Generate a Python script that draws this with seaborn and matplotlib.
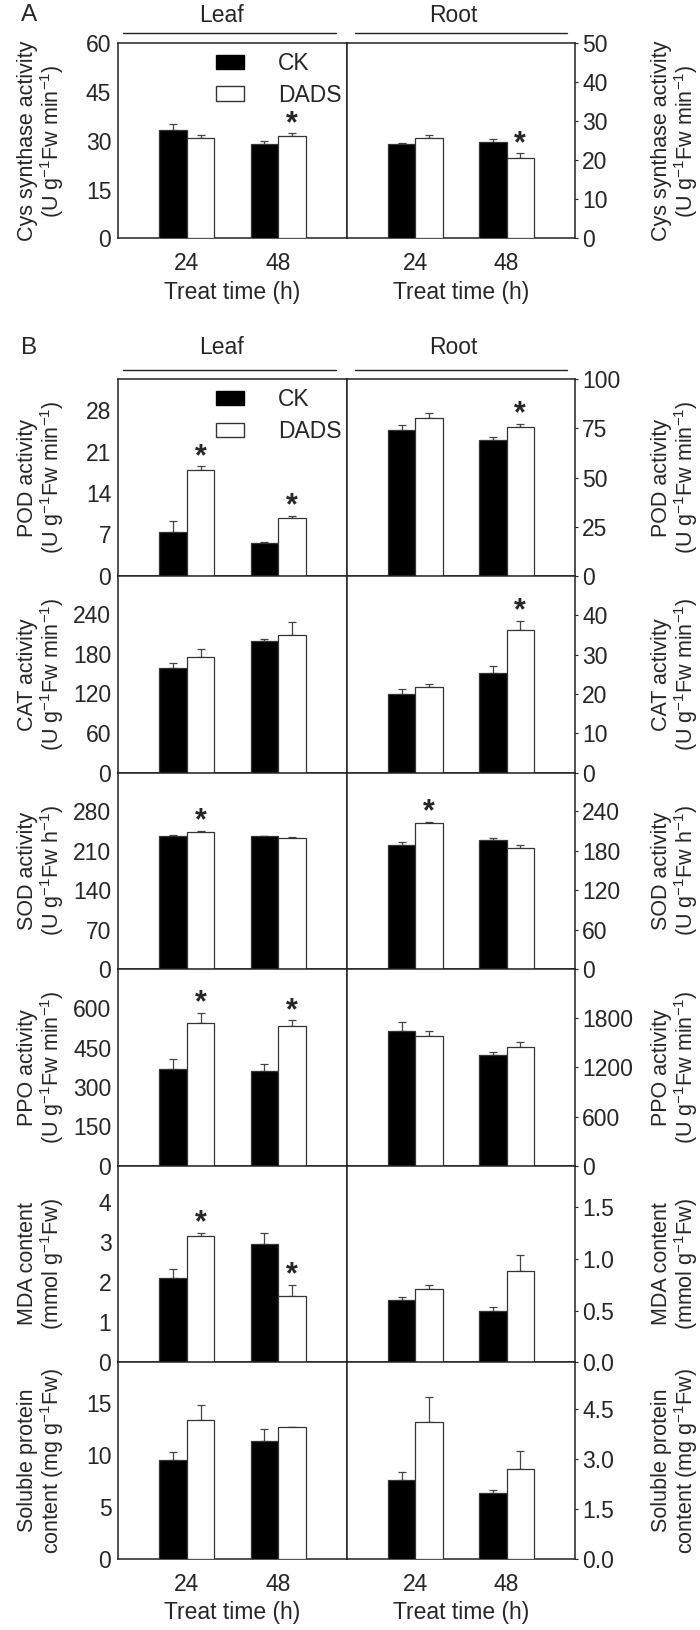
import numpy as np
import matplotlib
matplotlib.use("Agg")
import matplotlib.pyplot as plt
import pandas as pd
import seaborn as sns
from matplotlib.lines import Line2D
from matplotlib.patches import Patch

# ---- data (rows: CK, DADS ; cols: 24 h, 48 h) ----
times = ["24", "48"]
groups = ["CK", "DADS"]

cys_leaf = [[33.3, 29.0], [30.8, 31.6]]
cys_leaf_err = [[1.9, 0.8], [1.0, 0.7]]
cys_leaf_star = [False, True]
cys_root = [[24.2, 24.8], [25.6, 20.5]]
cys_root_err = [[0.35, 0.7], [0.9, 1.3]]
cys_root_star = [False, True]

pod_leaf = [[7.45, 5.5], [17.8, 9.7]]
pod_leaf_err = [[1.8, 0.17], [0.7, 0.45]]
pod_leaf_star = [True, True]
pod_root = [[74.1, 69.0], [80.4, 75.9]]
pod_root_err = [[2.6, 1.4], [2.6, 1.5]]
pod_root_star = [False, True]

cat_leaf = [[158.2, 198.6], [174.8, 208.2]]
cat_leaf_err = [[7.5, 4.5], [12.7, 19.7]]
cat_leaf_star = [False, False]
cat_root = [[20.0, 25.3], [21.7, 36.3]]
cat_root_err = [[1.3, 1.7], [0.9, 2.3]]
cat_root_star = [False, True]

sod_leaf = [[235.5, 235.5], [243.2, 231.9]]
sod_leaf_err = [[3.0, 1.5], [1.8, 2.4]]
sod_leaf_star = [True, False]
sod_root = [[188.1, 195.7], [221.7, 184.0]]
sod_root_err = [[4.6, 3.1], [2.0, 4.6]]
sod_root_star = [True, False]

ppo_leaf = [[368.6, 362.3], [545.3, 532.6]]
ppo_leaf_err = [[37, 24], [37, 21.6]]
ppo_leaf_star = [True, True]
ppo_root = [[1641, 1356], [1588, 1445]]
ppo_root_err = [[114, 32], [61, 66]]
ppo_root_star = [False, False]

mda_leaf = [[2.1, 2.94], [3.16, 1.64]]
mda_leaf_err = [[0.22, 0.28], [0.07, 0.29]]
mda_leaf_star = [True, True]
mda_root = [[0.6, 0.5], [0.706, 0.88]]
mda_root_err = [[0.03, 0.03], [0.042, 0.16]]
mda_root_star = [False, False]

prot_leaf = [[9.51, 11.34], [13.36, 12.72]]
prot_leaf_err = [[0.77, 1.19], [1.41, 0.0]]
prot_leaf_star = [False, False]
prot_root = [[2.37, 1.97], [4.12, 2.69]]
prot_root_err = [[0.25, 0.11], [0.73, 0.56]]
prot_root_star = [False, False]

# ---- style ----
sns.set_style("white")
plt.rcParams["font.family"] = ["Liberation Sans", "DejaVu Sans"]
plt.rcParams["mathtext.fontset"] = "custom"
plt.rcParams["mathtext.rm"] = "Liberation Sans"
plt.rcParams["mathtext.it"] = "Liberation Sans:italic"
plt.rcParams["mathtext.default"] = "regular"

FS = 16.5      # tick labels and horizontal text
FS_Y = 15.5    # rotated axis titles
LC = "#222222"
W, H = 700, 1630

fig = plt.figure(figsize=(7, 16.3), dpi=100)

x_left, x_mid, x_right = 118.3, 346.7, 575.0
pw = x_mid - x_left


def make_axes(top, height):
    b = 1 - (top + height) / H
    ax_l = fig.add_axes([x_left / W, b, pw / W, height / H])
    ax_r = fig.add_axes([x_mid / W, b, pw / W, height / H])
    return ax_l, ax_r


def draw(ax, mean, err, star):
    df = pd.DataFrame({
        "time": times * 2,
        "group": [groups[0]] * 2 + [groups[1]] * 2,
        "value": mean[0] + mean[1],
    })
    sns.barplot(data=df, x="time", y="value", hue="group",
                palette={"CK": "black", "DADS": "white"}, width=0.6,
                edgecolor="#333333", linewidth=0.9, errorbar=None,
                legend=False, ax=ax, zorder=3)
    for cont, e in zip(ax.containers, err):
        xs = [p.get_x() + p.get_width() / 2 for p in cont]
        ys = [p.get_height() for p in cont]
        ax.errorbar(xs, ys, yerr=[np.zeros(len(e)), e], fmt="none",
                    ecolor="#444444", elinewidth=0.9, capsize=2.9,
                    capthick=0.9, zorder=2)
    for p, e, s in zip(ax.containers[1], err[1], star):
        if s:
            ax.annotate("*", (p.get_x() + p.get_width() / 2, p.get_height() + e),
                        xytext=(0, 1), textcoords="offset points",
                        ha="center", va="baseline", fontsize=22,
                        fontweight="bold")


def style(ax, side, ylim, ticks, fmt, label, bottom=False):
    ax.set_xlim(-0.75, 1.75)
    ax.set_ylim(*ylim)
    ax.set_yticks(ticks)
    ax.set_yticklabels([fmt.format(t) for t in ticks])
    if side == "right":
        ax.yaxis.tick_right()
    for sp in ax.spines.values():
        sp.set_visible(True)
        sp.set_color(LC)
        sp.set_linewidth(1.1)
    ax.tick_params(axis="y", direction="out", length=2.5, width=0.8,
                   pad=2.5, labelsize=FS, color=LC)
    ax.set_ylabel("")
    ax.set_xlabel("")
    if bottom:
        ax.tick_params(axis="x", length=0, pad=10, labelsize=FS)
        ax.set_xticks([0, 1])
        ax.set_xticklabels(times)
        ax.set_xlabel("Treat time (h)", fontsize=FS, labelpad=4)
    else:
        ax.tick_params(axis="x", length=0, labelbottom=False)
    xpos = -0.337 if side == "left" else 1.440
    ax.text(xpos, 0.5, label, transform=ax.transAxes, rotation=90,
            ha="center", va="center", fontsize=FS_Y, linespacing=1.0,
            multialignment="center")


def add_legend(ax):
    handles = [Patch(facecolor="black", edgecolor="black", label="CK"),
               Patch(facecolor="white", edgecolor="#333333", label="DADS")]
    ax.legend(handles=handles, loc="upper left", bbox_to_anchor=(0.428, 0.955),
              frameon=False, fontsize=FS, handlelength=1.2, handleheight=0.6,
              handletextpad=1.5, labelspacing=0.38, borderpad=0,
              borderaxespad=0)


def header(letter, y_text, y_line):
    fig.text(29 / W, 1 - y_text / H, letter, fontsize=17.5, ha="center", va="center")
    fig.text(222 / W, 1 - y_text / H, "Leaf", fontsize=FS, ha="center", va="center")
    fig.text(453 / W, 1 - y_text / H, "Root", fontsize=FS, ha="center", va="center")
    for x0, x1 in [(123, 336), (355, 567)]:
        fig.add_artist(Line2D([x0 / W, x1 / W], [1 - y_line / H] * 2,
                              transform=fig.transFigure, color=LC, lw=1.0))


unit_min = "(U g$^{-1}$Fw min$^{-1}$)"

# ---- panel A ----
header("A", 15, 33.3)
axA_l, axA_r = make_axes(43.3, 195.0)
draw(axA_l, cys_leaf, cys_leaf_err, cys_leaf_star)
draw(axA_r, cys_root, cys_root_err, cys_root_star)
style(axA_l, "left", (0, 60), [0, 15, 30, 45, 60], "{:g}",
      "Cys synthase activity\n" + unit_min, bottom=True)
style(axA_r, "right", (0, 50), [0, 10, 20, 30, 40, 50], "{:g}",
      "Cys synthase activity\n" + unit_min, bottom=True)
add_legend(axA_l)

# ---- panel B ----
header("B", 348, 369.5)
b_top, b_h = 379.3, 196.6

panels = [
    (pod_leaf, pod_leaf_err, pod_leaf_star, pod_root, pod_root_err, pod_root_star,
     (0, 33.2), [0, 7, 14, 21, 28], (0, 100), [0, 25, 50, 75, 100], "{:g}",
     "POD activity\n" + unit_min, "POD activity\n" + unit_min),
    (cat_leaf, cat_leaf_err, cat_leaf_star, cat_root, cat_root_err, cat_root_star,
     (0, 298), [0, 60, 120, 180, 240], (0, 50), [0, 10, 20, 30, 40], "{:g}",
     "CAT activity\n" + unit_min, "CAT activity\n" + unit_min),
    (sod_leaf, sod_leaf_err, sod_leaf_star, sod_root, sod_root_err, sod_root_star,
     (0, 349), [0, 70, 140, 210, 280], (0, 299), [0, 60, 120, 180, 240], "{:g}",
     "SOD activity\n(U g$^{-1}$Fw h$^{-1}$)", "SOD activity\n(U g$^{-1}$Fw h$^{-1}$)"),
    (ppo_leaf, ppo_leaf_err, ppo_leaf_star, ppo_root, ppo_root_err, ppo_root_star,
     (0, 750), [0, 150, 300, 450, 600], (0, 2400), [0, 600, 1200, 1800], "{:g}",
     "PPO activity\n" + unit_min, "PPO activity\n" + unit_min),
    (mda_leaf, mda_leaf_err, mda_leaf_star, mda_root, mda_root_err, mda_root_star,
     (0, 4.9), [0, 1, 2, 3, 4], (0, 1.9), [0, 0.5, 1.0, 1.5], "{:.1f}",
     "MDA content\n(mmol g$^{-1}$Fw)", "MDA content\n(mmol g$^{-1}$Fw)"),
    (prot_leaf, prot_leaf_err, prot_leaf_star, prot_root, prot_root_err, prot_root_star,
     (0, 18.9), [0, 5, 10, 15], (0, 5.9), [0, 1.5, 3.0, 4.5], "{:.1f}",
     "Soluble protein\ncontent (mg g$^{-1}$Fw)", "Soluble protein\ncontent (mg g$^{-1}$Fw)"),
]

for i, (lm, le, ls, rm, re, rs, lyl, lt, ryl, rt, rfmt, llab, rlab) in enumerate(panels):
    ax_l, ax_r = make_axes(b_top + i * b_h, b_h)
    draw(ax_l, lm, le, ls)
    draw(ax_r, rm, re, rs)
    last = i == len(panels) - 1
    style(ax_l, "left", lyl, lt, "{:g}", llab, bottom=last)
    style(ax_r, "right", ryl, rt, rfmt, rlab, bottom=last)
    if i == 0:
        add_legend(ax_l)

fig.savefig("out.png", dpi=100)
